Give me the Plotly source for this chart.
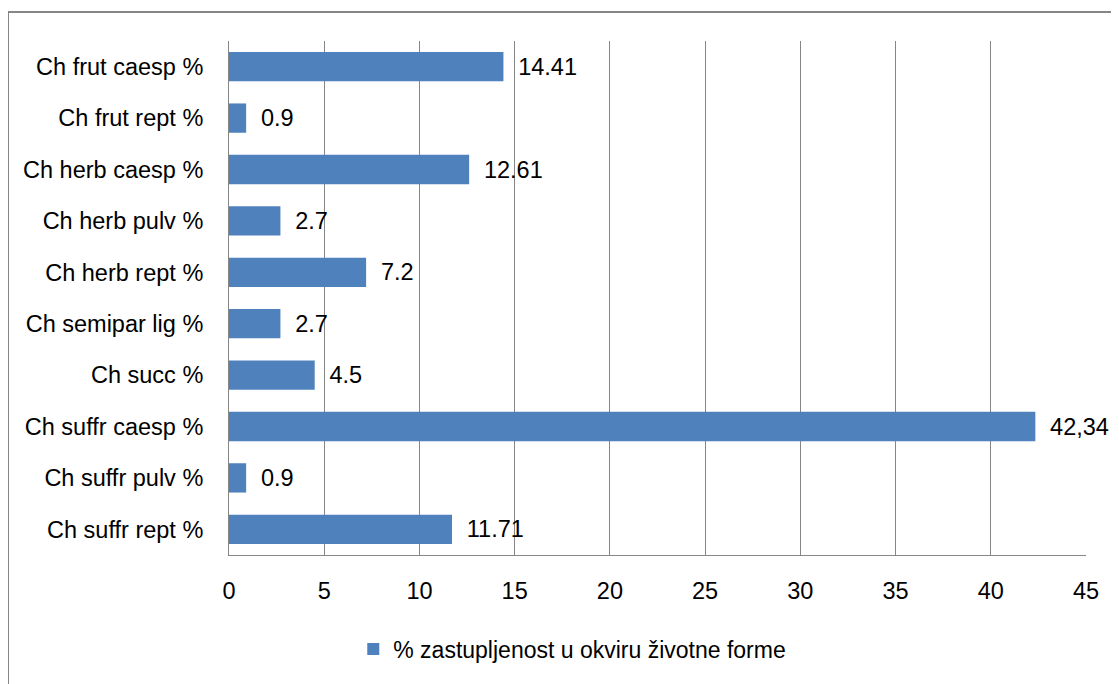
import plotly.graph_objects as go

categories = ["Ch frut caesp %", "Ch frut rept %", "Ch herb caesp %", "Ch herb pulv %",
              "Ch herb rept %", "Ch semipar lig %", "Ch succ %", "Ch suffr caesp %",
              "Ch suffr pulv %", "Ch suffr rept %"]
values = [14.41, 0.9, 12.61, 2.7, 7.2, 2.7, 4.5, 42.34, 0.9, 11.71]
labels = ["14.41", "0.9", "12.61", "2.7", "7.2", "2.7", "4.5", "42,34", "0.9", "11.71"]
x_ticks = [0, 5, 10, 15, 20, 25, 30, 35, 40, 45]
series_name = "% zastupljenost u okviru životne forme"

FONT = "Liberation Sans"
FS = 23.5

fig = go.Figure()
fig.add_trace(go.Bar(
    y=categories, x=values, orientation="h", name=series_name,
    marker=dict(color="#4F81BD", line=dict(width=0)),
    text=labels, texttemplate="\u2002%{text}", textposition="outside", cliponaxis=False,
    textfont=dict(family=FONT, size=FS, color="#000000"),
))

# page body has ~8px margin, so the figure is drawn 8px smaller and offset
fig.update_layout(
    width=1111, height=676,
    margin=dict(l=221, r=33, t=33, b=129),
    paper_bgcolor="white", plot_bgcolor="white",
    bargap=0.43,
    font=dict(family=FONT, size=FS, color="#000000"),
    showlegend=True,
    legend=dict(orientation="h", x=0.145, xanchor="left", y=-0.183, yanchor="middle",
                font=dict(family=FONT, size=23, color="#000000")),
    xaxis=dict(range=[0, 45], tickvals=x_ticks, showgrid=True, gridcolor="#868686",
               gridwidth=1, showline=True, linecolor="#868686", linewidth=1,
               zeroline=False, ticks="", ticklabelstandoff=15, fixedrange=True,
               automargin=False),
    yaxis=dict(categoryorder="array", categoryarray=categories[::-1], autorange=True,
               showgrid=False, showline=True, linecolor="#868686", linewidth=1,
               ticks="", ticklabelstandoff=20, automargin=False),
)

# chart-area frame (top and left visible in the reference)
fig.add_shape(type="rect", xref="paper", yref="paper",
              x0=(0 - 221) / 857, x1=1.2, y0=-0.4, y1=1 + 29 / 514,
              line=dict(color="#868686", width=2), fillcolor="rgba(0,0,0,0)", layer="below")

fig.write_html("out.html")
